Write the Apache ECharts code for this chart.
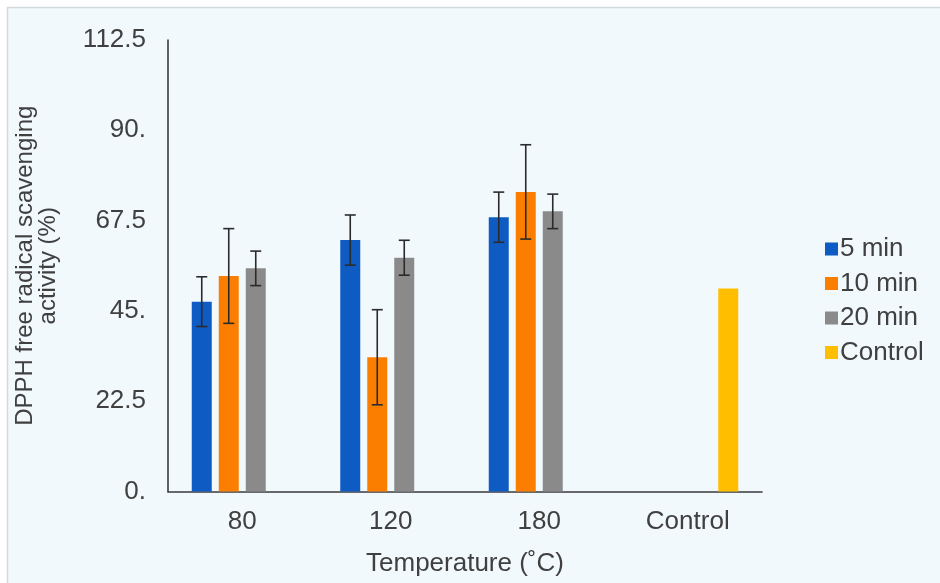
<!DOCTYPE html>
<html>
<head>
<meta charset="utf-8">
<script src="https://cdn.jsdelivr.net/npm/echarts@6/dist/echarts.min.js"></script>
<style>
html,body{margin:0;padding:0;background:#ffffff;}
#chart{width:940px;height:583px;}
</style>
</head>
<body>
<div id="chart"></div>
<script>
// ---- data ----
const categories = ['80', '120', '180', 'Control'];
const seriesNames = ['5 min', '10 min', '20 min', 'Control'];
const min5 = [47.3, 62.65, 68.35, null];
const min10 = [53.7, 33.45, 74.65, null];
const min20 = [55.6, 58.25, 69.8, null];
const control = [null, null, null, 50.6];
const err5 = [6.2, 6.25, 6.25];
const err10 = [11.8, 11.85, 11.75];
const err20 = [4.3, 4.35, 4.3];
const yTicks = [0, 22.5, 45, 67.5, 90, 112.5];

// ---- style ----
const colors = ['#0D5BC3', '#FC7E00', '#8A8A8A', '#FFBF00'];
const FONT = "'Liberation Sans', Arial, sans-serif";
const TXT = '#404040';
const BAR_W = 20;
const BAR_GAP = 0.35; // fraction of bar width
const N_BARS = 4;

function barOffset(i) {
  const gap = BAR_W * BAR_GAP;
  const total = N_BARS * BAR_W + (N_BARS - 1) * gap;
  return -total / 2 + i * (BAR_W + gap) + BAR_W / 2;
}

function errSeries(name, vals, errs, idx) {
  const data = [];
  for (let k = 0; k < errs.length; k++) {
    if (vals[k] != null) data.push([k, vals[k], errs[k]]);
  }
  return {
    type: 'custom',
    name: name + ' error',
    data: data,
    z: 10,
    silent: true,
    renderItem: function (params, api) {
      const x = api.value(0), v = api.value(1), e = api.value(2);
      const top = api.coord([x, v + e]);
      const bot = api.coord([x, v - e]);
      const cx = top[0] + barOffset(idx);
      const cap = 5.5;
      const style = { stroke: '#2b2b2b', lineWidth: 1.6 };
      return {
        type: 'group',
        children: [
          { type: 'line', shape: { x1: cx, y1: top[1], x2: cx, y2: bot[1] }, style: style },
          { type: 'line', shape: { x1: cx - cap, y1: top[1], x2: cx + cap, y2: top[1] }, style: style },
          { type: 'line', shape: { x1: cx - cap, y1: bot[1], x2: cx + cap, y2: bot[1] }, style: style }
        ]
      };
    }
  };
}

const chart = echarts.init(document.getElementById('chart'), null, { renderer: 'canvas' });
const barData = [min5, min10, min20, control];

const option = {
  animation: false,
  backgroundColor: '#ffffff',
  color: colors,
  textStyle: { fontFamily: FONT, color: TXT },
  graphic: [{
    type: 'rect',
    z: -10,
    silent: true,
    shape: { x: 7.5, y: 7.5, width: 940, height: 590 },
    style: { fill: '#F1F9FD', stroke: '#D3DADE', lineWidth: 1.5 }
  }],
  grid: { left: 168, right: 178, top: 40, bottom: 91.5, containLabel: false },
  legend: {
    orient: 'vertical',
    left: 820,
    top: 231,
    data: seriesNames,
    icon: 'rect',
    itemWidth: 13,
    itemHeight: 13,
    itemGap: 8.5,
    textStyle: { fontFamily: FONT, fontSize: 26, color: TXT, padding: [0, 0, 0, -3] }
  },
  xAxis: {
    type: 'category',
    data: categories,
    name: 'Temperature (˚C)',
    nameLocation: 'middle',
    nameGap: 59,
    nameTextStyle: { fontFamily: FONT, fontSize: 26, color: TXT },
    axisLine: { lineStyle: { color: '#3a3a3a', width: 1.6 } },
    axisTick: { show: false },
    axisLabel: { fontFamily: FONT, fontSize: 26, color: TXT, margin: 17 }
  },
  yAxis: {
    type: 'value',
    min: 0,
    max: 112.5,
    interval: 22.5,
    name: 'DPPH free radical scavenging\nactivity (%)',
    nameLocation: 'middle',
    nameGap: 108,
    nameTextStyle: { fontFamily: FONT, fontSize: 24, color: TXT, lineHeight: 23 },
    axisLine: { show: true, lineStyle: { color: '#3a3a3a', width: 1.6 } },
    axisTick: { show: false },
    splitLine: { show: false },
    axisLabel: {
      fontFamily: FONT, fontSize: 26, color: TXT, margin: 22,
      formatter: function (v) {
        const t = yTicks.find(function (a) { return Math.abs(a - v) < 1e-6; });
        const val = t != null ? t : v;
        return Number.isInteger(val) ? val + '.' : String(val);
      }
    }
  },
  series: barData.map(function (d, i) {
    return {
      type: 'bar',
      name: seriesNames[i],
      data: d,
      barWidth: BAR_W,
      barGap: (BAR_GAP * 100) + '%',
      itemStyle: { color: colors[i] }
    };
  }).concat([
    errSeries('5 min', min5, err5, 0),
    errSeries('10 min', min10, err10, 1),
    errSeries('20 min', min20, err20, 2)
  ])
};
chart.setOption(option);
</script>
</body>
</html>
